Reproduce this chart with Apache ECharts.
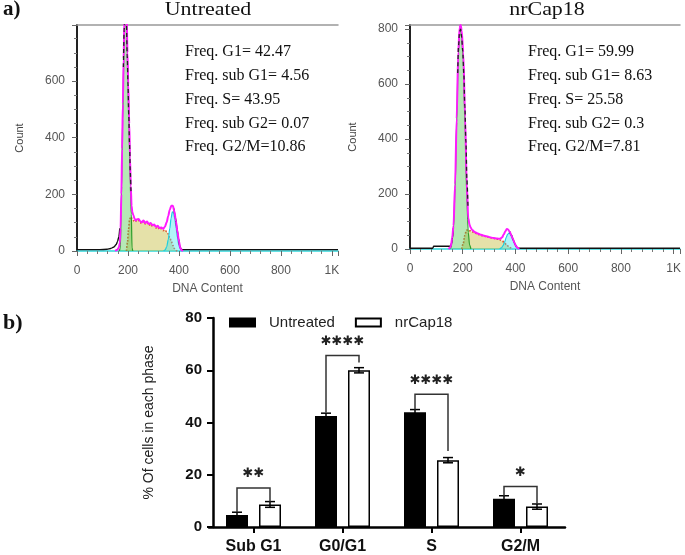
<!DOCTYPE html>
<html><head><meta charset="utf-8">
<script src="https://cdn.jsdelivr.net/npm/echarts@6.0.0/dist/echarts.min.js"></script>
<style>html,body{margin:0;padding:0;background:#fff}#c{width:685px;height:555px}</style>
</head><body><div id="c"></div>
<script>
// ---------------- data ----------------
const histTickLabels = ['0', '200', '400', '600', '800', '1K'];
const histTitles = ['Untreated', 'nrCap18'];
const untreatedStats = ['Freq. G1= 42.47', 'Freq. sub G1= 4.56', 'Freq. S= 43.95', 'Freq. sub G2= 0.07', 'Freq. G2/M=10.86'];
const nrCapStats = ['Freq. G1= 59.99', 'Freq. sub G1= 8.63', 'Freq. S= 25.58', 'Freq. sub G2= 0.3', 'Freq. G2/M=7.81'];

// Untreated histogram curves: [DNA content, count]
const untG1 = [[166,0],[170,10],[173,130],[175,227],[179,462],[184,697],[188,820],[191,850],[194,800],[197,697],[204,462],[209,227],[213,130],[216,10],[219,0]];
const untS = [[194,0],[198,30],[202,75],[206,108],[210,120],[215,116],[221,108],[228,103],[234,108],[240,110],[247,101],[254,97],[261,104],[268,96],[275,100],[282,91],[289,95],[296,87],[303,90],[310,81],[317,85],[324,77],[331,79],[338,72],[345,74],[352,68],[358,60],[364,48],[370,34],[376,20],[382,9],[388,2],[394,0]];
const untG2 = [[340,0],[346,4],[352,15],[358,40],[364,80],[369,115],[374,138],[379,134],[384,112],[389,80],[394,48],[399,24],[404,9],[409,2],[414,0]];
const untTotal = [[150,0],[158,4],[164,12],[168,28],[171,80],[174,200],[177,360],[180,520],[183,680],[186,820],[189,900],[192,900],[195,830],[198,700],[201,590],[205,450],[208,330],[211,230],[214,160],[217,138],[221,126],[226,114],[230,108],[236,112],[242,113],[248,105],[254,101],[261,108],[268,99],[275,104],[282,95],[289,99],[296,91],[303,94],[310,85],[317,89],[324,81],[331,83],[338,78],[345,86],[352,102],[358,124],[364,146],[370,160],[376,160],[382,140],[388,106],[394,68],[400,34],[405,12],[410,3],[416,0]];
const untRawTail = [[0,5],[90,5],[118,6],[132,9],[145,14],[153,22],[159,33],[164,50],[168,80]];
const untRawG2 = [[380,150],[386,118],[392,82],[398,44],[403,18],[408,7],[414,5],[1024,5]];
const untRawPeak = [[182,650],[185,780],[188,860],[191,870],[194,800],[197,690],[200,590],[203,480],[206,380],[209,280],[212,200]];

// nrCap18 histogram curves
const nrcG1 = [[150,0],[155,5],[160,30],[165,75],[171,220],[177,460],[183,700],[188,790],[192,800],[196,770],[202,690],[209,450],[215,200],[221,60],[226,15],[231,0]];
const nrcS = [[196,0],[202,20],[208,50],[214,68],[220,70],[226,67],[236,63],[245,59],[255,55],[266,51],[278,48],[290,45],[302,42],[316,39],[330,36],[342,33],[350,29],[358,23],[366,16],[374,9],[382,4],[390,0]];
const nrcG2 = [[340,0],[347,4],[353,12],[359,26],[365,42],[370,53],[375,58],[380,55],[386,44],[392,30],[398,16],[404,6],[410,1],[415,0]];
const nrcTotal = [[146,0],[151,4],[155,10],[160,40],[165,85],[171,235],[177,475],[183,715],[188,805],[192,815],[196,795],[202,715],[209,480],[215,240],[221,112],[226,88],[230,78],[236,69],[245,62],[255,57],[266,53],[278,49],[290,46],[302,43],[316,40],[330,38],[342,37],[350,43],[356,54],[362,65],[367,73],[372,71],[378,63],[384,51],[390,37],[396,23],[402,11],[408,4],[414,0]];
const nrcRawTail = [[0,3],[86,3],[90,10],[154,10],[158,22],[161,42],[164,75]];
const nrcRawG2 = [[378,64],[385,50],[392,32],[399,16],[405,7],[411,3],[1024,3]];
const nrcRawPeak = [[181,640],[184,740],[188,790],[192,800],[196,770],[200,720],[204,640],[208,520],[212,390],[216,250],[220,150]];

// Bar chart
const phases = ['Sub G1', 'G0/G1', 'S', 'G2/M'];
const groupNames = ['Untreated', 'nrCap18'];
const untreatedPct = [4.56, 42.47, 43.95, 10.86];
const nrCapPct = [8.63, 59.99, 25.58, 7.81];
const untreatedErr = [1.1, 1.1, 1.0, 1.1];
const nrCapErr = [1.1, 1.0, 1.0, 1.0];
const sigLabels = ['✱✱', '✱✱✱✱', '✱✱✱✱', '✱'];
const sigTop = [14.9, 65.6, 50.8, 15.5];
const sigLeftEnd = [5.6, 43.8, 45.0, 12.0];
const sigRightEnd = [9.7, 63.0, 29.1, 8.8];
const barTicks = [0, 20, 40, 60, 80];

// ---------------- chart ----------------
const SERIF = '"Liberation Serif","Times New Roman",serif';
const SANS = '"Liberation Sans",Arial,sans-serif';
const BAR_W = 22, BAR_GAP = 11, BAR_OFF = (BAR_W + BAR_GAP) / 2;

const chart = echarts.init(document.getElementById('c'), null, {renderer: 'canvas'});

function histX(gi) {
  return [{
    gridIndex: gi, type: 'value', min: 0, max: 1024, interval: 200, position: 'bottom',
    axisLine: {show: true, onZero: false, lineStyle: {color: '#2fd8dc', width: 1.5}},
    axisTick: {show: true, length: 5, lineStyle: {color: '#666'}},
    minorTick: {show: true, splitNumber: 5, length: 3, lineStyle: {color: '#777'}},
    axisLabel: {color: '#555', fontSize: 12, fontFamily: SANS, margin: 14,
      formatter: v => (v % 200 === 0 && v <= 1000) ? histTickLabels[v / 200] : ''},
    splitLine: {show: false}, minorSplitLine: {show: false},
    name: 'DNA Content', nameLocation: 'middle', nameGap: 32,
    nameTextStyle: {color: '#555', fontSize: 12, fontFamily: SANS}
  }, {
    gridIndex: gi, type: 'value', min: 0, max: 1024, position: 'top',
    axisLine: {show: true, onZero: false, lineStyle: {color: '#999', width: 1.5}},
    axisTick: {show: false}, axisLabel: {show: false}, splitLine: {show: false}
  }];
}
function histY(gi, ymax) {
  return [{
    gridIndex: gi, type: 'value', min: 0, max: ymax, interval: 200,
    axisLine: {show: true, lineStyle: {color: '#888', width: 1}},
    axisTick: {show: true, length: 5, lineStyle: {color: '#666'}},
    minorTick: {show: true, splitNumber: 4, length: 3, lineStyle: {color: '#777'}},
    axisLabel: {color: '#555', fontSize: 12, fontFamily: SANS, margin: 12,
      formatter: v => (v % 200 === 0) ? String(v) : ''},
    splitLine: {show: false}, minorSplitLine: {show: false},
    name: 'Count', nameLocation: 'middle', nameGap: 52, nameRotate: 90,
    nameTextStyle: {color: '#444', fontSize: 11, fontFamily: SANS}
  }, {
    gridIndex: gi, type: 'value', min: 0, max: ymax, position: 'right',
    axisLine: {show: true, lineStyle: {color: '#222', width: 2}},
    axisTick: {show: false}, axisLabel: {show: false}, splitLine: {show: false}
  }];
}
function histSeries(xi, yi, d) {
  const base = {type: 'line', xAxisIndex: xi, yAxisIndex: yi, showSymbol: false, symbol: 'none',
    smooth: 0.3, smoothMonotone: 'x', silent: true};
  return [
    Object.assign({}, base, {data: d.S, z: 2, lineStyle: {color: '#e0502a', width: 1.6, type: 'dotted'},
      areaStyle: {color: 'rgba(196,186,58,0.62)'}}),
    Object.assign({}, base, {data: d.G2, z: 3, lineStyle: {color: '#1fcfe0', width: 1.2},
      areaStyle: {color: 'rgba(70,228,238,0.6)'}}),
    Object.assign({}, base, {data: d.G1, z: 4, lineStyle: {color: '#2c9e2c', width: 1.2},
      areaStyle: {color: 'rgba(80,200,80,0.6)'}}),
    Object.assign({}, base, {data: d.rawTail, z: 5, lineStyle: {color: '#111', width: 1.4}}),
    Object.assign({}, base, {data: d.rawG2, z: 5, lineStyle: {color: '#111', width: 1.4}}),
    Object.assign({}, base, {data: d.total, z: 6, lineStyle: {color: '#ff1aff', width: 2}}),
    Object.assign({}, base, {data: d.rawPeak, z: 7, lineStyle: {color: '#222', width: 1.3, type: [4, 3]}})
  ];
}

function errSeries(vals, errs, dx) {
  return {
    type: 'custom', xAxisIndex: 4, yAxisIndex: 4, z: 5, silent: true,
    data: vals.map((v, i) => [i, v]),
    encode: {x: 0, y: 1},
    renderItem: function (params, api) {
      const i = params.dataIndex;
      const x = api.coord([i, vals[i]])[0] + dx;
      const yT = api.coord([i, vals[i] + errs[i]])[1];
      const yB = api.coord([i, vals[i] - errs[i]])[1];
      const hw = 5, st = {stroke: '#000', lineWidth: 1.5};
      return {type: 'group', children: [
        {type: 'line', shape: {x1: x, y1: yT, x2: x, y2: yB}, style: st},
        {type: 'line', shape: {x1: x - hw, y1: yT, x2: x + hw, y2: yT}, style: st},
        {type: 'line', shape: {x1: x - hw, y1: yB, x2: x + hw, y2: yB}, style: st}
      ]};
    }
  };
}

const sigSeries = {
  type: 'custom', xAxisIndex: 4, yAxisIndex: 4, z: 6, silent: true,
  data: phases.map((p, i) => [i, sigTop[i]]),
  encode: {x: 0, y: 1},
  renderItem: function (params, api) {
    const i = params.dataIndex;
    const cx = api.coord([i, 0])[0];
    const xL = cx - BAR_OFF, xR = cx + BAR_OFF;
    const yT = api.coord([i, sigTop[i]])[1];
    const yL = api.coord([i, sigLeftEnd[i]])[1];
    const yR = api.coord([i, sigRightEnd[i]])[1];
    return {type: 'group', children: [
      {type: 'polyline', shape: {points: [[xL, yL], [xL, yT], [xR, yT], [xR, yR]]},
        style: {stroke: '#333', lineWidth: 1.5, fill: 'none'}},
      {type: 'text', x: cx, y: yT - 14,
        style: {text: sigLabels[i], font: 'bold 13px "DejaVu Sans",sans-serif', fill: '#222',
          textAlign: 'center', textVerticalAlign: 'middle'}}
    ]};
  }
};

const graphicEls = [
  {type: 'text', x: 3, y: 10, style: {text: 'a)', font: 'bold 21px ' + SERIF, fill: '#111', textVerticalAlign: 'middle'}},
  {type: 'text', x: 3, y: 323, style: {text: 'b)', font: 'bold 22px ' + SERIF, fill: '#111', textVerticalAlign: 'middle'}},
  {type: 'text', x: 208, y: 10, scaleX: 1.22, style: {text: histTitles[0], font: '18px ' + SERIF, fill: '#111', textAlign: 'center', textVerticalAlign: 'middle'}},
  {type: 'text', x: 547, y: 10, scaleX: 1.22, style: {text: histTitles[1], font: '18px ' + SERIF, fill: '#111', textAlign: 'center', textVerticalAlign: 'middle'}}
];
const statY = [51.7, 76, 99.5, 123.3, 146.7];
untreatedStats.forEach((t, i) => graphicEls.push({type: 'text', x: 185, y: statY[i],
  style: {text: t, font: '16px ' + SERIF, fill: '#111', textVerticalAlign: 'middle'}}));
nrCapStats.forEach((t, i) => graphicEls.push({type: 'text', x: 528, y: statY[i],
  style: {text: t, font: '16px ' + SERIF, fill: '#111', textVerticalAlign: 'middle'}}));

const option = {
  animation: false,
  backgroundColor: '#fff',
  grid: [
    {left: 77, top: 25, width: 261, height: 226},
    {left: 410, top: 25, width: 270, height: 224},
    {left: 209, top: 318, width: 356, height: 210}
  ],
  xAxis: [].concat(histX(0), histX(1), [{
    gridIndex: 2, type: 'category', data: phases,
    axisLine: {show: true, lineStyle: {color: '#000', width: 2.5}},
    axisTick: {show: true, alignWithLabel: true, length: 6, lineStyle: {color: '#000', width: 2}},
    axisLabel: {color: '#111', fontSize: 16, fontWeight: 'bold', fontFamily: SANS, margin: 12},
    splitLine: {show: false}
  }]),
  yAxis: [].concat(histY(0, 798), histY(1, 815), [{
    gridIndex: 2, type: 'value', min: 0, max: 80, interval: 20, offset: -4,
    axisLine: {show: true, lineStyle: {color: '#000', width: 2.5}},
    axisTick: {show: true, length: 6, lineStyle: {color: '#000', width: 2}},
    axisLabel: {color: '#111', fontSize: 15, fontWeight: 'bold', fontFamily: SANS, margin: 11,
      formatter: v => barTicks.indexOf(v) >= 0 ? String(v) : ''},
    splitLine: {show: false},
    name: '% Of cells in each phase', nameLocation: 'middle', nameGap: 57, nameRotate: 90,
    nameTextStyle: {color: '#222', fontSize: 14, fontFamily: SANS}
  }]),
  legend: {
    data: groupNames, left: 229, top: 315, padding: 0, itemWidth: 25, itemHeight: 8, itemGap: 20, icon: 'rect',
    textStyle: {fontSize: 15, color: '#222', fontFamily: SANS, padding: [0, 0, 0, 9]}
  },
  graphic: {elements: graphicEls},
  series: [].concat(
    histSeries(0, 0, {G1: untG1, S: untS, G2: untG2, total: untTotal, rawTail: untRawTail, rawG2: untRawG2, rawPeak: untRawPeak}),
    histSeries(2, 2, {G1: nrcG1, S: nrcS, G2: nrcG2, total: nrcTotal, rawTail: nrcRawTail, rawG2: nrcRawG2, rawPeak: nrcRawPeak}),
    [
      {name: groupNames[0], type: 'bar', xAxisIndex: 4, yAxisIndex: 4, data: untreatedPct,
        barWidth: BAR_W, barGap: '50%', itemStyle: {color: '#000', borderColor: '#000', borderWidth: 1.5}},
      {name: groupNames[1], type: 'bar', xAxisIndex: 4, yAxisIndex: 4, data: nrCapPct,
        barWidth: BAR_W, barGap: '50%', itemStyle: {color: '#fff', borderColor: '#000', borderWidth: 1.5}},
      errSeries(untreatedPct, untreatedErr, -BAR_OFF),
      errSeries(nrCapPct, nrCapErr, BAR_OFF),
      sigSeries
    ]
  )
};
chart.setOption(option);
</script>
</body></html>
